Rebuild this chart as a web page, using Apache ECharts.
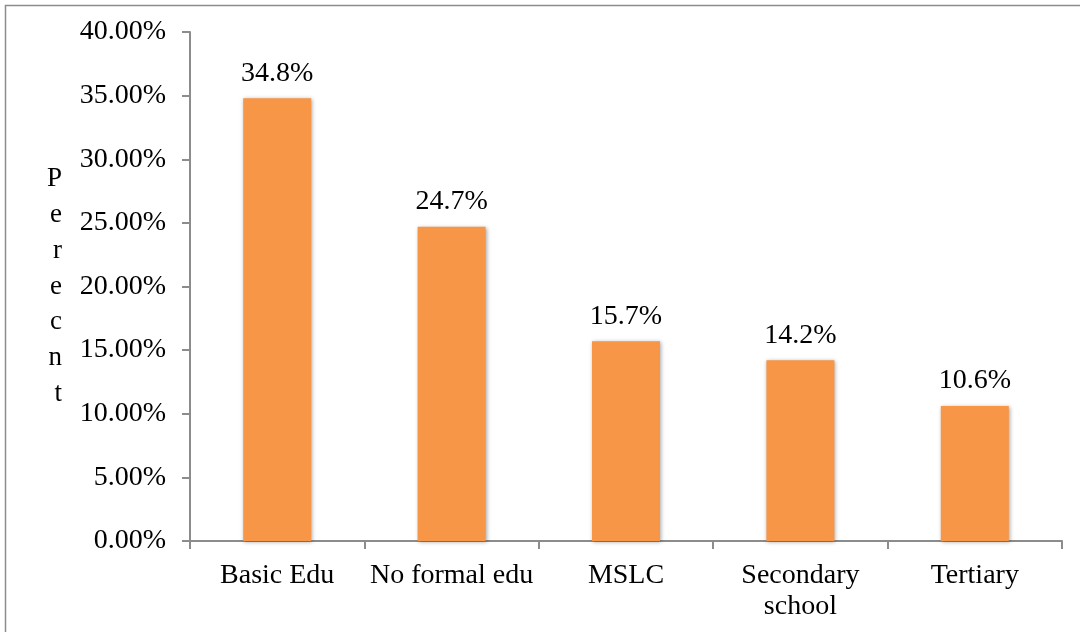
<!DOCTYPE html>
<html>
<head>
<meta charset="utf-8">
<script src="https://cdn.jsdelivr.net/npm/echarts@6/dist/echarts.min.js"></script>
<style>
  html, body { margin: 0; padding: 0; background: #fff; }
  #main { width: 1080px; height: 632px; }
</style>
</head>
<body>
<div id="main"></div>
<script>
var categories = ['Basic Edu', 'No formal edu', 'MSLC', 'Secondary\nschool', 'Tertiary'];
var percents = [34.8, 24.7, 15.7, 14.2, 10.6];
var yTicks = [0, 5, 10, 15, 20, 25, 30, 35, 40];

var font = '"Liberation Serif", "Times New Roman", serif';
var myChart = echarts.init(document.getElementById('main'));

var option = {
    animation: false,
    backgroundColor: '#fff',
    graphic: [{
        type: 'rect',
        shape: { x: 5.5, y: 5.5, width: 1100, height: 700 },
        style: { fill: 'none', stroke: '#8c8c8c', lineWidth: 1.5 },
        silent: true
    }],
    grid: { left: 190, right: 18, top: 32, bottom: 91 },
    xAxis: {
        type: 'category',
        data: categories,
        axisLine: { lineStyle: { color: '#8c8c8c', width: 2 } },
        axisTick: { show: true, length: 8, lineStyle: { color: '#8c8c8c', width: 2 } },
        axisLabel: {
            color: '#000', fontFamily: font, fontSize: 28,
            margin: 19, lineHeight: 31, interval: 0
        }
    },
    yAxis: {
        type: 'value',
        min: yTicks[0],
        max: yTicks[yTicks.length - 1],
        interval: 5,
        name: 'P\ne\nr\ne\nc\nn\nt',
        nameLocation: 'middle',
        nameRotate: 0,
        nameGap: 128,
        nameTextStyle: { color: '#000', fontFamily: font, fontSize: 27, lineHeight: 35.7 },
        splitLine: { show: false },
        axisLine: { show: true, lineStyle: { color: '#8c8c8c', width: 2 } },
        axisTick: { show: true, length: 8, lineStyle: { color: '#8c8c8c', width: 2 } },
        axisLabel: {
            color: '#000', fontFamily: font, fontSize: 28, margin: 24,
            formatter: function (v) { return v.toFixed(2) + '%'; }
        }
    },
    series: [{
        type: 'bar',
        data: percents,
        barWidth: 68,
        itemStyle: {
            color: '#F79646',
            shadowColor: 'rgba(0,0,0,0.35)',
            shadowBlur: 4,
            shadowOffsetX: 1,
            shadowOffsetY: 1
        },
        label: {
            show: true,
            position: 'top',
            distance: 11,
            color: '#000',
            fontFamily: font,
            fontSize: 28,
            formatter: function (p) { return p.value.toFixed(1) + '%'; }
        }
    }]
};

myChart.setOption(option);
</script>
</body>
</html>
